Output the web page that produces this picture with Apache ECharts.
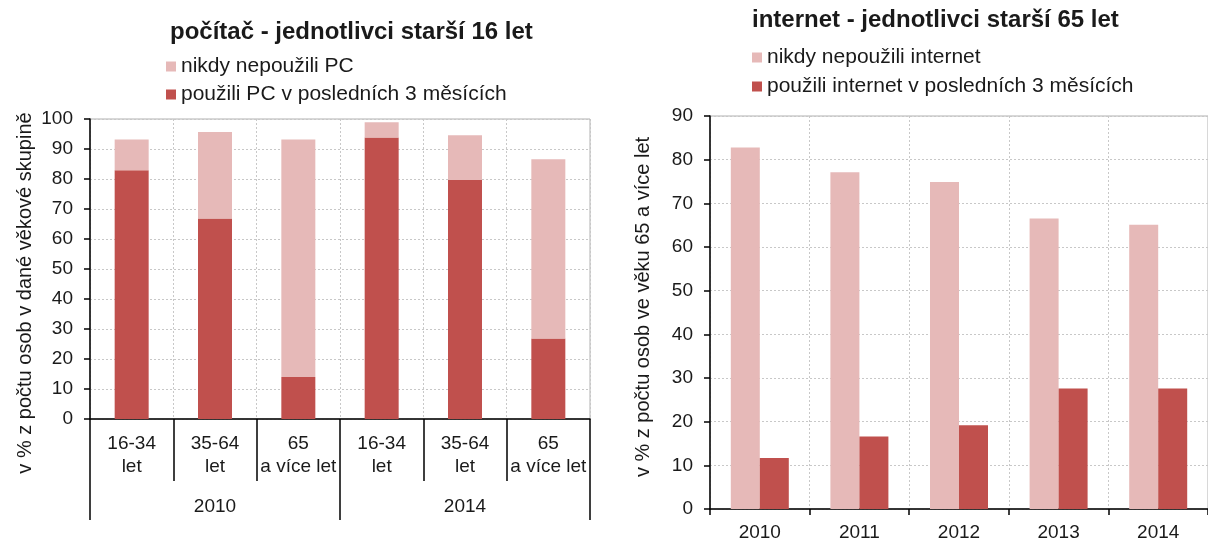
<!DOCTYPE html>
<html>
<head>
<meta charset="utf-8">
<script src="https://cdn.jsdelivr.net/npm/echarts@6/dist/echarts.min.js"></script>
<style>
  html, body { margin: 0; padding: 0; background: #fff; }
  #chart { width: 1208px; height: 542px; }
</style>
</head>
<body>
<div id="chart"></div>
<script>
// levý graf - počítač
const pcGroups = ["16-34\nlet", "35-64\nlet", "65\na více let", "16-34\nlet", "35-64\nlet", "65\na více let"];
const pcYears = ["2010", "2014"];
const pcUsed = [82.9, 66.8, 14.0, 93.8, 79.7, 26.8];
const pcNever = [10.3, 28.9, 79.2, 5.1, 14.9, 59.8];

// pravý graf - internet
const netYears = ["2010", "2011", "2012", "2013", "2014"];
const netNever = [82.8, 77.1, 74.9, 66.5, 65.1];
const netUsed = [11.7, 16.6, 19.2, 27.6, 27.6];

const dark = "#c0504d";
const light = "#e6b9b8";
const txt = "#1a1a1a";
const font = "Liberation Sans";

const dotted = { show: true, lineStyle: { color: "#c8c8c8", type: [2, 2], width: 1 } };
const blackLine = { show: true, lineStyle: { color: "#000", width: 1.5 } };

const chart = echarts.init(document.getElementById("chart"));

const option = {
  backgroundColor: "#fff",
  animation: false,
  textStyle: { fontFamily: font, color: txt },
  title: [
    { text: "počítač - jednotlivci starší 16 let", left: 165, top: 15,
      textStyle: { fontSize: 24, fontWeight: "bold", color: txt, fontFamily: font } },
    { text: "internet - jednotlivci starší 65 let", left: 747, top: 3,
      textStyle: { fontSize: 24, fontWeight: "bold", color: txt, fontFamily: font } }
  ],
  legend: [
    { data: ["nikdy nepoužili PC", "použili PC v posledních 3 měsících"],
      orient: "vertical", left: 161, top: 51, itemWidth: 10, itemHeight: 10, itemGap: 7,
      icon: "rect", textStyle: { fontSize: 21, color: txt, fontFamily: font } },
    { data: ["nikdy nepoužili internet", "použili internet v posledních 3 měsících"],
      orient: "vertical", left: 747, top: 42, itemWidth: 10, itemHeight: 10, itemGap: 8,
      icon: "rect", textStyle: { fontSize: 21, color: txt, fontFamily: font } }
  ],
  grid: [
    { left: 90, top: 119, width: 500, height: 300, show: true, borderColor: "#b0b0b0", borderWidth: 1 },
    { left: 710, top: 116, width: 508, height: 394, show: true, borderColor: "#b0b0b0", borderWidth: 1 }
  ],
  xAxis: [
    {
      gridIndex: 0, type: "category", data: pcGroups, position: "bottom",
      axisLine: blackLine,
      axisTick: { show: true, length: 62, interval: 0, lineStyle: { color: "#000", width: 1.5 } },
      axisLabel: { interval: 0, margin: 13, fontSize: 19, lineHeight: 23, color: txt },
      splitLine: dotted
    },
    {
      gridIndex: 0, type: "category", data: pcYears, position: "bottom",
      axisLine: { show: false },
      axisTick: { show: true, length: 101, interval: 0, lineStyle: { color: "#000", width: 1.5 } },
      axisLabel: { interval: 0, margin: 78, fontSize: 19, color: txt },
      splitLine: { show: false }
    },
    {
      gridIndex: 1, type: "category", data: netYears,
      axisLine: blackLine,
      axisTick: { show: true, length: 6, interval: 0, lineStyle: { color: "#000", width: 1.5 } },
      axisLabel: { interval: 0, margin: 14, fontSize: 19, color: txt },
      splitLine: dotted
    }
  ],
  yAxis: [
    {
      gridIndex: 0, type: "value", min: 0, max: 100, interval: 10,
      axisLine: blackLine,
      axisTick: { show: true, length: 6, lineStyle: { color: "#000", width: 1.5 } },
      axisLabel: { margin: 17, fontSize: 19, color: txt },
      splitLine: dotted
    },
    {
      gridIndex: 1, type: "value", min: 0, max: 90, interval: 10,
      axisLine: blackLine,
      axisTick: { show: true, length: 6, lineStyle: { color: "#000", width: 1.5 } },
      axisLabel: { margin: 17, fontSize: 19, color: txt },
      splitLine: dotted
    }
  ],
  graphic: [
    { type: "text", x: 25, y: 293, rotation: Math.PI / 2,
      style: { text: "v % z počtu osob v dané věkové skupině", fill: txt, font: "20px " + font,
               textAlign: "center", textVerticalAlign: "middle" } },
    { type: "text", x: 643, y: 307, rotation: Math.PI / 2,
      style: { text: "v % z počtu osob ve věku 65 a více let", fill: txt, font: "20px " + font,
               textAlign: "center", textVerticalAlign: "middle" } }
  ],
  series: [
    { name: "použili PC v posledních 3 měsících", type: "bar", stack: "pc",
      xAxisIndex: 0, yAxisIndex: 0, barWidth: 34, data: pcUsed,
      itemStyle: { color: dark } },
    { name: "nikdy nepoužili PC", type: "bar", stack: "pc",
      xAxisIndex: 0, yAxisIndex: 0, barWidth: 34, data: pcNever,
      itemStyle: { color: light } },
    { name: "nikdy nepoužili internet", type: "bar",
      xAxisIndex: 2, yAxisIndex: 1, barWidth: 29, barGap: "0%", data: netNever,
      itemStyle: { color: light } },
    { name: "použili internet v posledních 3 měsících", type: "bar",
      xAxisIndex: 2, yAxisIndex: 1, barWidth: 29, barGap: "0%", data: netUsed,
      itemStyle: { color: dark } }
  ]
};

chart.setOption(option);
</script>
</body>
</html>
